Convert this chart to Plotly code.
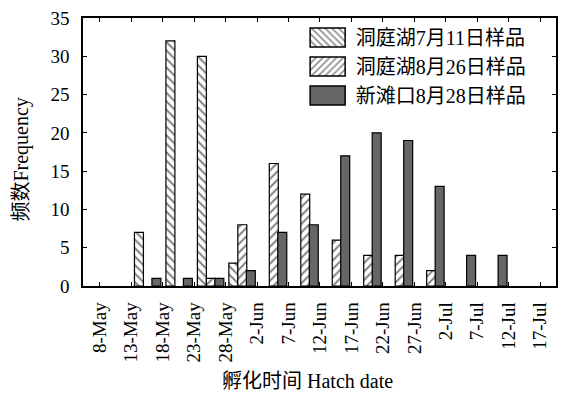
import plotly.graph_objects as go

# Hatch dates (5-day bins) and counts per sample
dates = ['8-May', '13-May', '18-May', '23-May', '28-May', '2-Jun', '7-Jun',
         '12-Jun', '17-Jun', '22-Jun', '27-Jun', '2-Jul', '7-Jul', '12-Jul', '17-Jul']
dongting_0711 = [None, 7, 32, 30, 3, None, None, None, None, None, None, None, None, None, None]
dongting_0826 = [None, None, None, 1, 8, 16, 12, 6, 4, 4, 2, None, None, None, None]
xintankou_0828 = [None, 1, 1, 1, 2, 7, 8, 17, 20, 19, 13, 4, 4, None, None]

names = ['洞庭湖7月11日样品', '洞庭湖8月26日样品', '新滩口8月28日样品']
y_ticks = [0, 5, 10, 15, 20, 25, 30, 35]

FONT = 'Liberation Serif, Times New Roman, Noto Sans CJK SC, serif'
pos = list(range(len(dates)))
bar_w = 0.285
offsets = [0.105, 0.39, 0.66]

fig = go.Figure()
styles = [
    dict(color='white', line=dict(color='black', width=1.2),
         pattern=dict(shape='\\', fgcolor='black', bgcolor='white', size=6, solidity=0.32)),
    dict(color='white', line=dict(color='black', width=1.2),
         pattern=dict(shape='/', fgcolor='black', bgcolor='white', size=6, solidity=0.32)),
    dict(color='#666666', line=dict(color='black', width=1.2)),
]
for i, vals in enumerate([dongting_0711, dongting_0826, xintankou_0828]):
    fig.add_trace(go.Bar(
        x=pos, y=vals, name=names[i], width=bar_w, offset=offsets[i],
        marker=styles[i], legendgroup=f'g{i}',
    ))

fig.update_layout(
    width=566, height=405,
    margin=dict(l=83, r=8, t=13, b=119),
    paper_bgcolor='white', plot_bgcolor='white',
    barmode='overlay',
    font=dict(family=FONT, size=19, color='black'),
    showlegend=True,
    legend=dict(x=0.458, y=1.0, xanchor='left', yanchor='top',
                bgcolor='rgba(0,0,0,0)', font=dict(size=20),
                itemwidth=46, tracegroupgap=0),
    xaxis=dict(range=[-0.53, 14.5], tickmode='array', tickvals=pos, ticktext=dates,
               tickangle=-90, ticks='inside', ticklen=4, tickcolor='black',
               ticklabelstandoff=7,
               showline=True, linecolor='black', linewidth=1.5, mirror='ticks',
               showgrid=False, zeroline=False),
    yaxis=dict(range=[0, 35], tickmode='array', tickvals=y_ticks,
               ticks='inside', ticklen=4, tickcolor='black',
               ticklabelstandoff=8,
               showline=True, linecolor='black', linewidth=1.5, mirror='ticks',
               showgrid=False, zeroline=False),
    annotations=[
        dict(text='孵化时间 Hatch date', xref='paper', yref='paper', x=0.475, y=-0.355,
             xanchor='center', yanchor='middle', showarrow=False, font=dict(size=20)),
        dict(text='频数Frequency', xref='paper', yref='paper', x=-0.13, y=0.47,
             xanchor='center', yanchor='middle', showarrow=False, textangle=-90,
             font=dict(size=20)),
    ],
)

# widen the legend swatches into rectangles
post = """
var gd = document.getElementById('{plot_id}');
gd.querySelectorAll('.legendpoints path').forEach(function(p){
  p.setAttribute('d', 'M17.5,9.5H-17.5V-9.5H17.5Z');
  p.style.stroke = 'black';
  p.style.strokeWidth = '1.5px';
});
"""
fig.write_html("out.html", post_script=post)
